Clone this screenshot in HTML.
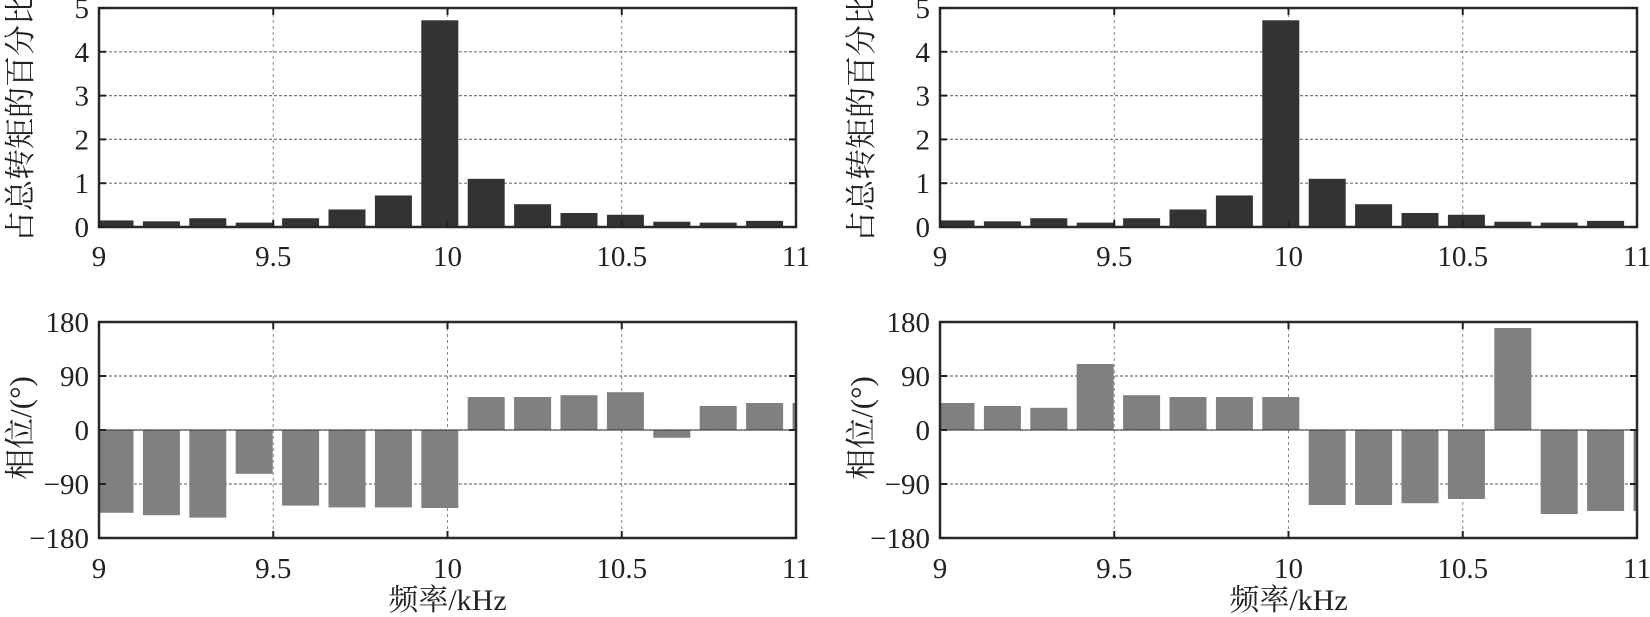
<!DOCTYPE html>
<html><head><meta charset="utf-8"><style>
html,body{margin:0;padding:0;background:#fff;}
svg{display:block;}
text{font-family:"Liberation Serif","Noto Serif CJK SC","Noto Sans CJK SC",serif;fill:#222;}
</style></head><body>
<svg id="s" width="1650" height="617" viewBox="0 0 1650 617" xmlns="http://www.w3.org/2000/svg"></svg>
<script>
(function(){
var s=document.getElementById('s');
var h='';
var amp=[0.15,0.13,0.2,0.1,0.2,0.4,0.72,4.72,1.1,0.52,0.32,0.28,0.12,0.1,0.14,0];
var bl=[-138,-142,-146,-73,-126,-129,-129,-130,55,55,58,63,-13,40,45,45];
var br=[45,40,37,110,58,55,55,55,-125,-125,-122,-115,170,-140,-135,-135];
var cid=0;
function panel(x0,isTop,vals,ylab,xlab){
  var W=697;
  var y0=isTop?8:322, y1=isTop?227:538;
  var H=y1-y0;
  var toY=isTop?function(v){return y1-v/5*H;}:function(v){return y0+(180-v)/360*H;};
  var xs=[9,9.5,10,10.5,11];
  var xp=function(v){return x0+(v-9)/2*W;};
  cid++;
  h+='<clipPath id="c'+cid+'"><rect x="'+x0+'" y="'+y0+'" width="'+W+'" height="'+H+'"/></clipPath>';
  [9.5,10,10.5].forEach(function(v){h+='<line x1="'+xp(v)+'" y1="'+y0+'" x2="'+xp(v)+'" y2="'+y1+'" stroke="#888" stroke-width="1" stroke-dasharray="3,3"/>';});
  var yt=isTop?[1,2,3,4]:[90,0,-90];
  yt.forEach(function(v){h+='<line x1="'+x0+'" y1="'+toY(v)+'" x2="'+(x0+W)+'" y2="'+toY(v)+'" stroke="#777" stroke-width="1.2" stroke-dasharray="3,2"/>';});
  h+='<g clip-path="url(#c'+cid+')">';
  vals.forEach(function(v,i){
    var c=x0+16+46.4*i, a=toY(0), b=toY(v);
    h+='<rect x="'+(c-18.5)+'" y="'+Math.min(a,b)+'" width="37" height="'+Math.max(Math.abs(a-b),1.5)+'" fill="'+(isTop?'#333':'#808080')+'"/>';
  });
  h+='</g>';
  if(!isTop) h+='<line x1="'+x0+'" y1="'+toY(0)+'" x2="'+(x0+W)+'" y2="'+toY(0)+'" stroke="#333" stroke-width="1"/>';
  h+='<rect x="'+x0+'" y="'+y0+'" width="'+W+'" height="'+H+'" fill="none" stroke="#2a2a2a" stroke-width="2.5"/>';
  xs.forEach(function(v){
    h+='<line x1="'+xp(v)+'" y1="'+y0+'" x2="'+xp(v)+'" y2="'+(y0+7)+'" stroke="#222" stroke-width="2"/><line x1="'+xp(v)+'" y1="'+y1+'" x2="'+xp(v)+'" y2="'+(y1-7)+'" stroke="#222" stroke-width="2"/>';
    h+='<text x="'+xp(v)+'" y="'+(isTop?266:578)+'" font-size="29" text-anchor="middle">'+v+'</text>';
  });
  var ya=isTop?[0,1,2,3,4,5]:[-180,-90,0,90,180];
  ya.forEach(function(v){var y=toY(v);
    h+='<line x1="'+x0+'" y1="'+y+'" x2="'+(x0+7)+'" y2="'+y+'" stroke="#222" stroke-width="2"/><line x1="'+(x0+W)+'" y1="'+y+'" x2="'+(x0+W-7)+'" y2="'+y+'" stroke="#222" stroke-width="2"/>';
    h+='<text x="'+(x0-10)+'" y="'+(y+10)+'" font-size="29" text-anchor="end">'+String(v).replace('-','\u2212')+'</text>';
  });
  var cx=x0-78, cy=isTop?118:428;
  h+='<text transform="translate('+(cx+10)+','+cy+') rotate(-90)" font-size="31" text-anchor="middle">'+ylab+'</text>';
  if(xlab) h+='<text x="'+xp(10)+'" y="610" font-size="30" text-anchor="middle">频率/kHz</text>';
}
panel(99,true,amp,'占总转矩的百分比',0);
panel(940,true,amp,'占总转矩的百分比',0);
panel(99,false,bl,'相位/(°)',1);
panel(940,false,br,'相位/(°)',1);
s.innerHTML=h;
})();
</script>
</body></html>
